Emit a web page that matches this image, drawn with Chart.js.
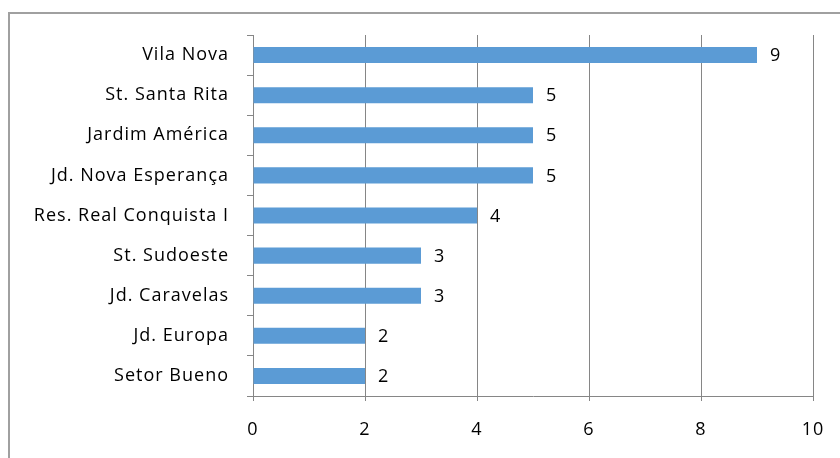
<!DOCTYPE html>
<html>
<head>
<meta charset="utf-8">
<script src="https://cdn.jsdelivr.net/npm/chart.js@4"></script>
<style>
  html, body { margin: 0; padding: 0; background: #fff; }
  #wrap { position: relative; width: 840px; height: 458px; overflow: hidden; }
  #frame { position: absolute; left: 8px; top: 12px; width: 900px; height: 500px; border: 2px solid #a0a0a0; box-sizing: border-box; }
  canvas { position: absolute; left: 0; top: 0; }
</style>
</head>
<body>
<div id="wrap">
  <div id="frame"></div>
  <canvas id="c" width="840" height="458"></canvas>
</div>
<script>
const categories = ["Vila Nova", "St. Santa Rita", "Jardim América", "Jd. Nova Esperança", "Res. Real Conquista I", "St. Sudoeste", "Jd. Caravelas", "Jd. Europa", "Setor Bueno"];
const values = [9, 5, 5, 5, 4, 3, 3, 2, 2];
const xTicks = [0, 2, 4, 6, 8, 10];

const FONT = "'Open Sans', 'Noto Sans', sans-serif";
const SPACING = "1px";

const spacingPlugin = {
  id: 'spacing',
  beforeInit(chart) { chart.ctx.letterSpacing = SPACING; },
  beforeUpdate(chart) { chart.ctx.letterSpacing = SPACING; },
  beforeDraw(chart) { chart.ctx.letterSpacing = SPACING; }
};

const valueLabels = {
  id: 'valueLabels',
  afterDatasetsDraw(chart) {
    const ctx = chart.ctx;
    const meta = chart.getDatasetMeta(0);
    ctx.save();
    ctx.letterSpacing = SPACING;
    ctx.font = "18px " + FONT;
    ctx.fillStyle = "#000";
    ctx.textAlign = "left";
    ctx.textBaseline = "middle";
    meta.data.forEach((bar, i) => {
      ctx.fillText(String(values[i]), bar.x + 13, bar.y + 1);
    });
    ctx.restore();
  }
};

new Chart(document.getElementById('c'), {
  type: 'bar',
  data: {
    labels: categories,
    datasets: [{
      data: values,
      backgroundColor: '#5B9BD5',
      borderWidth: 0,
      barPercentage: 0.4,
      categoryPercentage: 1.0
    }]
  },
  options: {
    indexAxis: 'y',
    responsive: false,
    animation: false,
    devicePixelRatio: 1,
    layout: { padding: { left: 0, top: 35, right: 27, bottom: 0 } },
    plugins: { legend: { display: false }, tooltip: { enabled: false }, title: { display: false } },
    scales: {
      x: {
        min: 0, max: 10,
        afterBuildTicks(scale) { scale.ticks = xTicks.map(v => ({ value: v })); },
        afterFit(scale) { scale.height = 62; scale.paddingLeft = 0; scale.paddingRight = 0; },
        grid: { color: '#868686', lineWidth: 1, drawTicks: true, tickLength: 5, tickColor: '#868686' },
        border: { display: true, color: '#868686', width: 1 },
        ticks: { font: { size: 18, family: FONT }, color: '#000', padding: 18 }
      },
      y: {
        afterFit(scale) { scale.width = 253; scale.paddingTop = 0; scale.paddingBottom = 0; },
        grid: { drawOnChartArea: false, drawTicks: true, tickLength: 6, color: '#868686', offset: true },
        border: { display: true, color: '#868686', width: 1 },
        ticks: { font: { size: 18, family: FONT }, color: '#000', padding: 18 }
      }
    }
  },
  plugins: [spacingPlugin, valueLabels]
});
</script>
</body>
</html>
